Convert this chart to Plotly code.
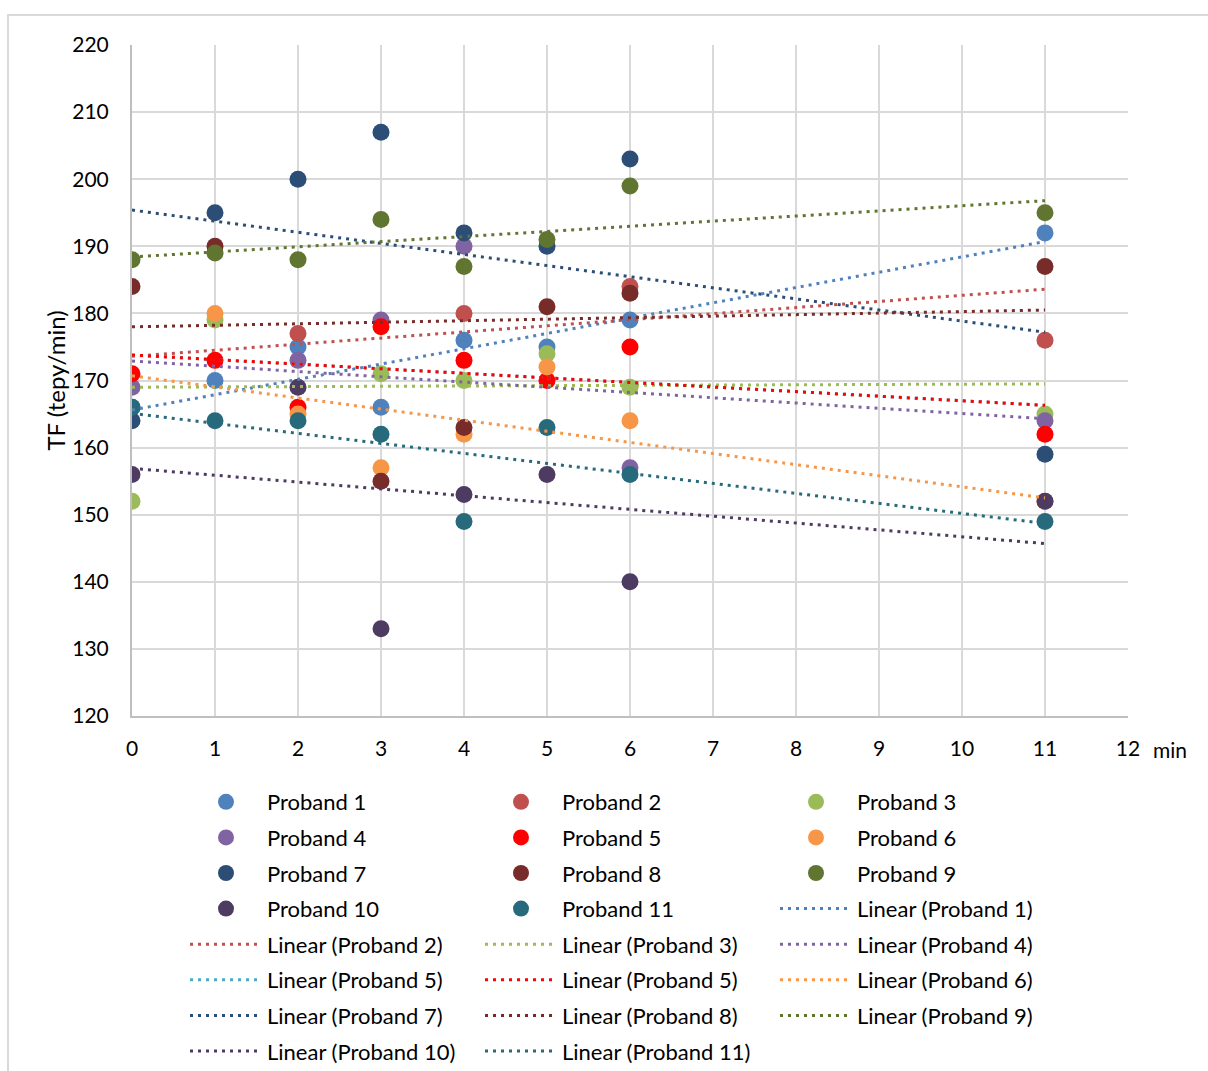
import plotly.graph_objects as go

# ---------------- data ----------------
x_min = [0, 1, 2, 3, 4, 5, 6, 11]

proband_names = ["Proband 1", "Proband 2", "Proband 3", "Proband 4", "Proband 5", "Proband 6",
                 "Proband 7", "Proband 8", "Proband 9", "Proband 10", "Proband 11"]

p1 = [166, 170, 175, 166, 176, 175, 179, 192]
p2 = [None, None, 177, None, 180, None, 184, 176]
p3 = [152, 179, None, 171, 170, 174, 169, 165]
p4 = [169, None, 173, 179, 190, None, 157, 164]
p5 = [171, 173, 166, 178, 173, 170, 175, 162]
p6 = [None, 180, 165, 157, 162, 172, 164, 152]
p7 = [164, 195, 200, 207, 192, 190, 203, 159]
p8 = [184, 190, None, 155, 163, 181, 183, 187]
p9 = [188, 189, 188, 194, 187, 191, 199, 195]
p10 = [156, None, 169, 133, 153, 156, 140, 152]
p11 = [166, 164, 164, 162, 149, 163, 156, 149]
proband_values = [p1, p2, p3, p4, p5, p6, p7, p8, p9, p10, p11]

# linear trend lines (value at x=0 and at x=11)
trend_x = [0, 11]
trend_names = ["Linear (Proband 1)", "Linear (Proband 2)", "Linear (Proband 3)", "Linear (Proband 4)",
               "Linear (Proband 5)", "Linear (Proband 5)", "Linear (Proband 6)", "Linear (Proband 7)",
               "Linear (Proband 8)", "Linear (Proband 9)", "Linear (Proband 10)", "Linear (Proband 11)"]
trend_start = [165.6, 173.6, 169.0, 172.9, 173.8, 173.8, 170.7, 195.4, 178.0, 188.4, 156.9, 165.1]
trend_end = [190.7, 183.6, 169.5, 164.3, 166.3, 166.3, 152.5, 177.2, 180.5, 196.8, 145.7, 148.7]

y_ticks = [120, 130, 140, 150, 160, 170, 180, 190, 200, 210, 220]
x_ticks = list(range(0, 13))

# ---------------- styles ----------------
marker_colors = ["#4F81BD", "#C0504D", "#9BBB59", "#8064A2", "#FF0000", "#F79646",
                 "#2C4D75", "#772C2A", "#5F7530", "#4D3B62", "#276A7C"]
trend_colors = ["#4F81BD", "#C0504D", "#9BBB59", "#8064A2", "#4BACC6", "#FF0000", "#F79646",
                "#2C4D75", "#772C2A", "#5F7530", "#4D3B62", "#276A7C"]
marker_legend = ["legend", "legend2", "legend3", "legend", "legend2", "legend3",
                 "legend", "legend2", "legend3", "legend", "legend2"]
trend_legend = ["legend3", "legend", "legend2", "legend3", "legend", "legend2", "legend3",
                "legend", "legend2", "legend3", "legend", "legend2"]

FONT = "Lato"

fig = go.Figure()
for i, (name, vals) in enumerate(zip(proband_names, proband_values)):
    fig.add_trace(go.Scatter(
        x=x_min, y=vals, mode="markers", name=name,
        marker=dict(size=17, color=marker_colors[i]),
        legend=marker_legend[i], legendgroup="m%d" % i,
    ))
for i, name in enumerate(trend_names):
    fig.add_trace(go.Scatter(
        x=trend_x, y=[trend_start[i], trend_end[i]], mode="lines", name=name,
        line=dict(color=trend_colors[i], width=3, dash="3px,5px"),
        legend=trend_legend[i], legendgroup="t%d" % i,
    ))

W, H = 1208, 1071
L, R, T, B = 132, 80, 45, 355
pw, ph = W - L - R, H - T - B


def px2x(px):
    return (px - L) / pw


def py2y(py):
    return (H - B - py) / ph


leg_common = dict(
    orientation="v", xanchor="left", yanchor="top",
    font=dict(family=FONT, size=22, color="#000000"),
    bgcolor="rgba(0,0,0,0)", tracegroupgap=4, itemwidth=72,
)
fig.update_layout(
    width=W, height=H,
    margin=dict(l=L, r=R, t=T, b=B, autoexpand=False),
    paper_bgcolor="white", plot_bgcolor="white",
    font=dict(family=FONT, size=21, color="#000000"),
    legend=dict(x=px2x(185), y=py2y(781), **leg_common),
    legend2=dict(x=px2x(480), y=py2y(781), **leg_common),
    legend3=dict(x=px2x(775), y=py2y(781), **leg_common),
    xaxis=dict(range=[0, 12], tickvals=x_ticks, showgrid=True, gridcolor="#d9d9d9", gridwidth=2,
               showline=True, linecolor="#bfbfbf", linewidth=2, zeroline=False,
               ticks="", ticklabelstandoff=13, tickfont=dict(family=FONT, size=21, color="#000000")),
    yaxis=dict(range=[120, 220], tickvals=y_ticks, showgrid=True, gridcolor="#d9d9d9", gridwidth=2,
               showline=True, linecolor="#bfbfbf", linewidth=2, zeroline=False,
               ticks="", ticklabelstandoff=17, tickfont=dict(family=FONT, size=21, color="#000000"),
               title=dict(text="TF (tepy/min)", font=dict(family=FONT, size=24, color="#000000"),
                          standoff=0)),
    shapes=[dict(type="rect", xref="paper", yref="paper",
                 x0=px2x(8), x1=px2x(1215), y0=py2y(1090), y1=py2y(15),
                 line=dict(color="#d9d9d9", width=2), fillcolor="rgba(0,0,0,0)", layer="below")],
    annotations=[dict(text="min", xref="paper", yref="paper", x=px2x(1151), y=py2y(750),
                      xanchor="left", yanchor="middle", showarrow=False,
                      font=dict(family=FONT, size=21, color="#000000"))],
)

fig.write_html("out.html")
